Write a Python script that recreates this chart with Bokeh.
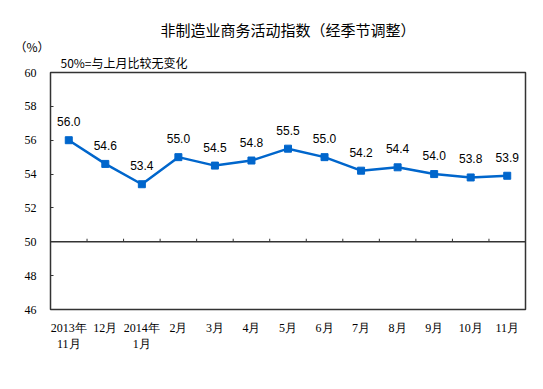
from bokeh.plotting import figure
from bokeh.models import (FactorRange, Range1d, Span, LabelSet, ColumnDataSource,
                          FixedTicker, Title)
from bokeh.transform import dodge
from bokeh.embed import file_html
from bokeh.resources import INLINE
from bokeh.core.properties import value

# ---- data ----
months = ["2013年\n11月", "12月", "2014年\n1月", "2月", "3月", "4月", "5月",
          "6月", "7月", "8月", "9月", "10月", "11月"]
index_values = [56.0, 54.6, 53.4, 55.0, 54.5, 54.8, 55.5, 55.0, 54.2, 54.4, 54.0, 53.8, 53.9]
y_ticks = [46, 48, 50, 52, 54, 56, 58, 60]
title_text = "非制造业商务活动指数（经季节调整）"
unit_text = "（%）"
note_text = "50%=与上月比较无变化"

LINE_COLOR = "#0066CC"
DARK = "#333333"

p = figure(width=535, height=381, output_backend="svg", toolbar_location=None,
           x_range=FactorRange(*months, range_padding=0), y_range=Range1d(46, 60),
           min_border_left=50, min_border_right=10, min_border_top=72, min_border_bottom=72,
           background_fill_color="white", border_fill_color="white")

p.grid.visible = False
p.outline_line_color = DARK
p.outline_line_width = 1.5

# y axis
p.yaxis.ticker = FixedTicker(ticks=y_ticks)
p.yaxis.axis_line_color = None
p.yaxis.major_tick_in = 3
p.yaxis.major_tick_out = 0
p.yaxis.major_tick_line_color = DARK
p.yaxis.minor_tick_line_color = None
p.yaxis.major_label_standoff = 14
p.yaxis.major_label_text_font = "Liberation Serif"
p.yaxis.major_label_text_font_size = "12px"
p.yaxis.major_label_text_color = "black"

# x axis
p.xaxis.axis_line_color = None
p.xaxis.major_tick_line_color = None
p.xaxis.major_tick_out = 0
p.xaxis.major_tick_in = 0
p.xaxis.major_label_standoff = 11
p.xaxis.major_label_text_font = "Liberation Serif"
p.xaxis.major_label_text_font_size = "12px"
p.xaxis.major_label_text_color = "black"

# 50% reference line with category boundary ticks
p.add_layout(Span(location=50, dimension="width", line_color=DARK, line_width=1.5))
tick_src = ColumnDataSource(dict(m=months[:-1], y0=[50] * 12, y1=[50.18] * 12))
p.segment(x0=dodge("m", 0.5, range=p.x_range), y0="y0",
          x1=dodge("m", 0.5, range=p.x_range), y1="y1",
          source=tick_src, line_color=DARK, line_width=1)

# data
src = ColumnDataSource(dict(m=months, v=index_values,
                            lbl=[f"{v:.1f}" for v in index_values]))
p.line("m", "v", source=src, line_color=LINE_COLOR, line_width=2.5)
p.scatter("m", "v", source=src, marker="square", size=7,
          fill_color=LINE_COLOR, line_color=LINE_COLOR)
p.add_layout(LabelSet(x="m", y="v", text="lbl", source=src, y_offset=14,
                      text_align="center", text_baseline="alphabetic",
                      text_font=value("Liberation Sans"), text_font_size="12px",
                      text_color="black"))

# titles / notes (added nearest-to-frame first)
p.add_layout(Title(text=note_text, align="left", offset=10, standoff=4,
                   text_font="Noto Sans CJK SC", text_font_size="12px",
                   text_font_style="normal", text_color="black"), "above")
p.add_layout(Title(text=unit_text, align="left", offset=-36, standoff=-11,
                   text_font="Noto Sans CJK SC", text_font_size="12px",
                   text_font_style="normal", text_color="black"), "above")
p.add_layout(Title(text=title_text, align="center", offset=-3, standoff=3,
                   text_font="Noto Sans CJK SC", text_font_size="15px",
                   text_font_style="normal", text_color="black"), "above")

open("out.html", "w").write(file_html(p, INLINE))
